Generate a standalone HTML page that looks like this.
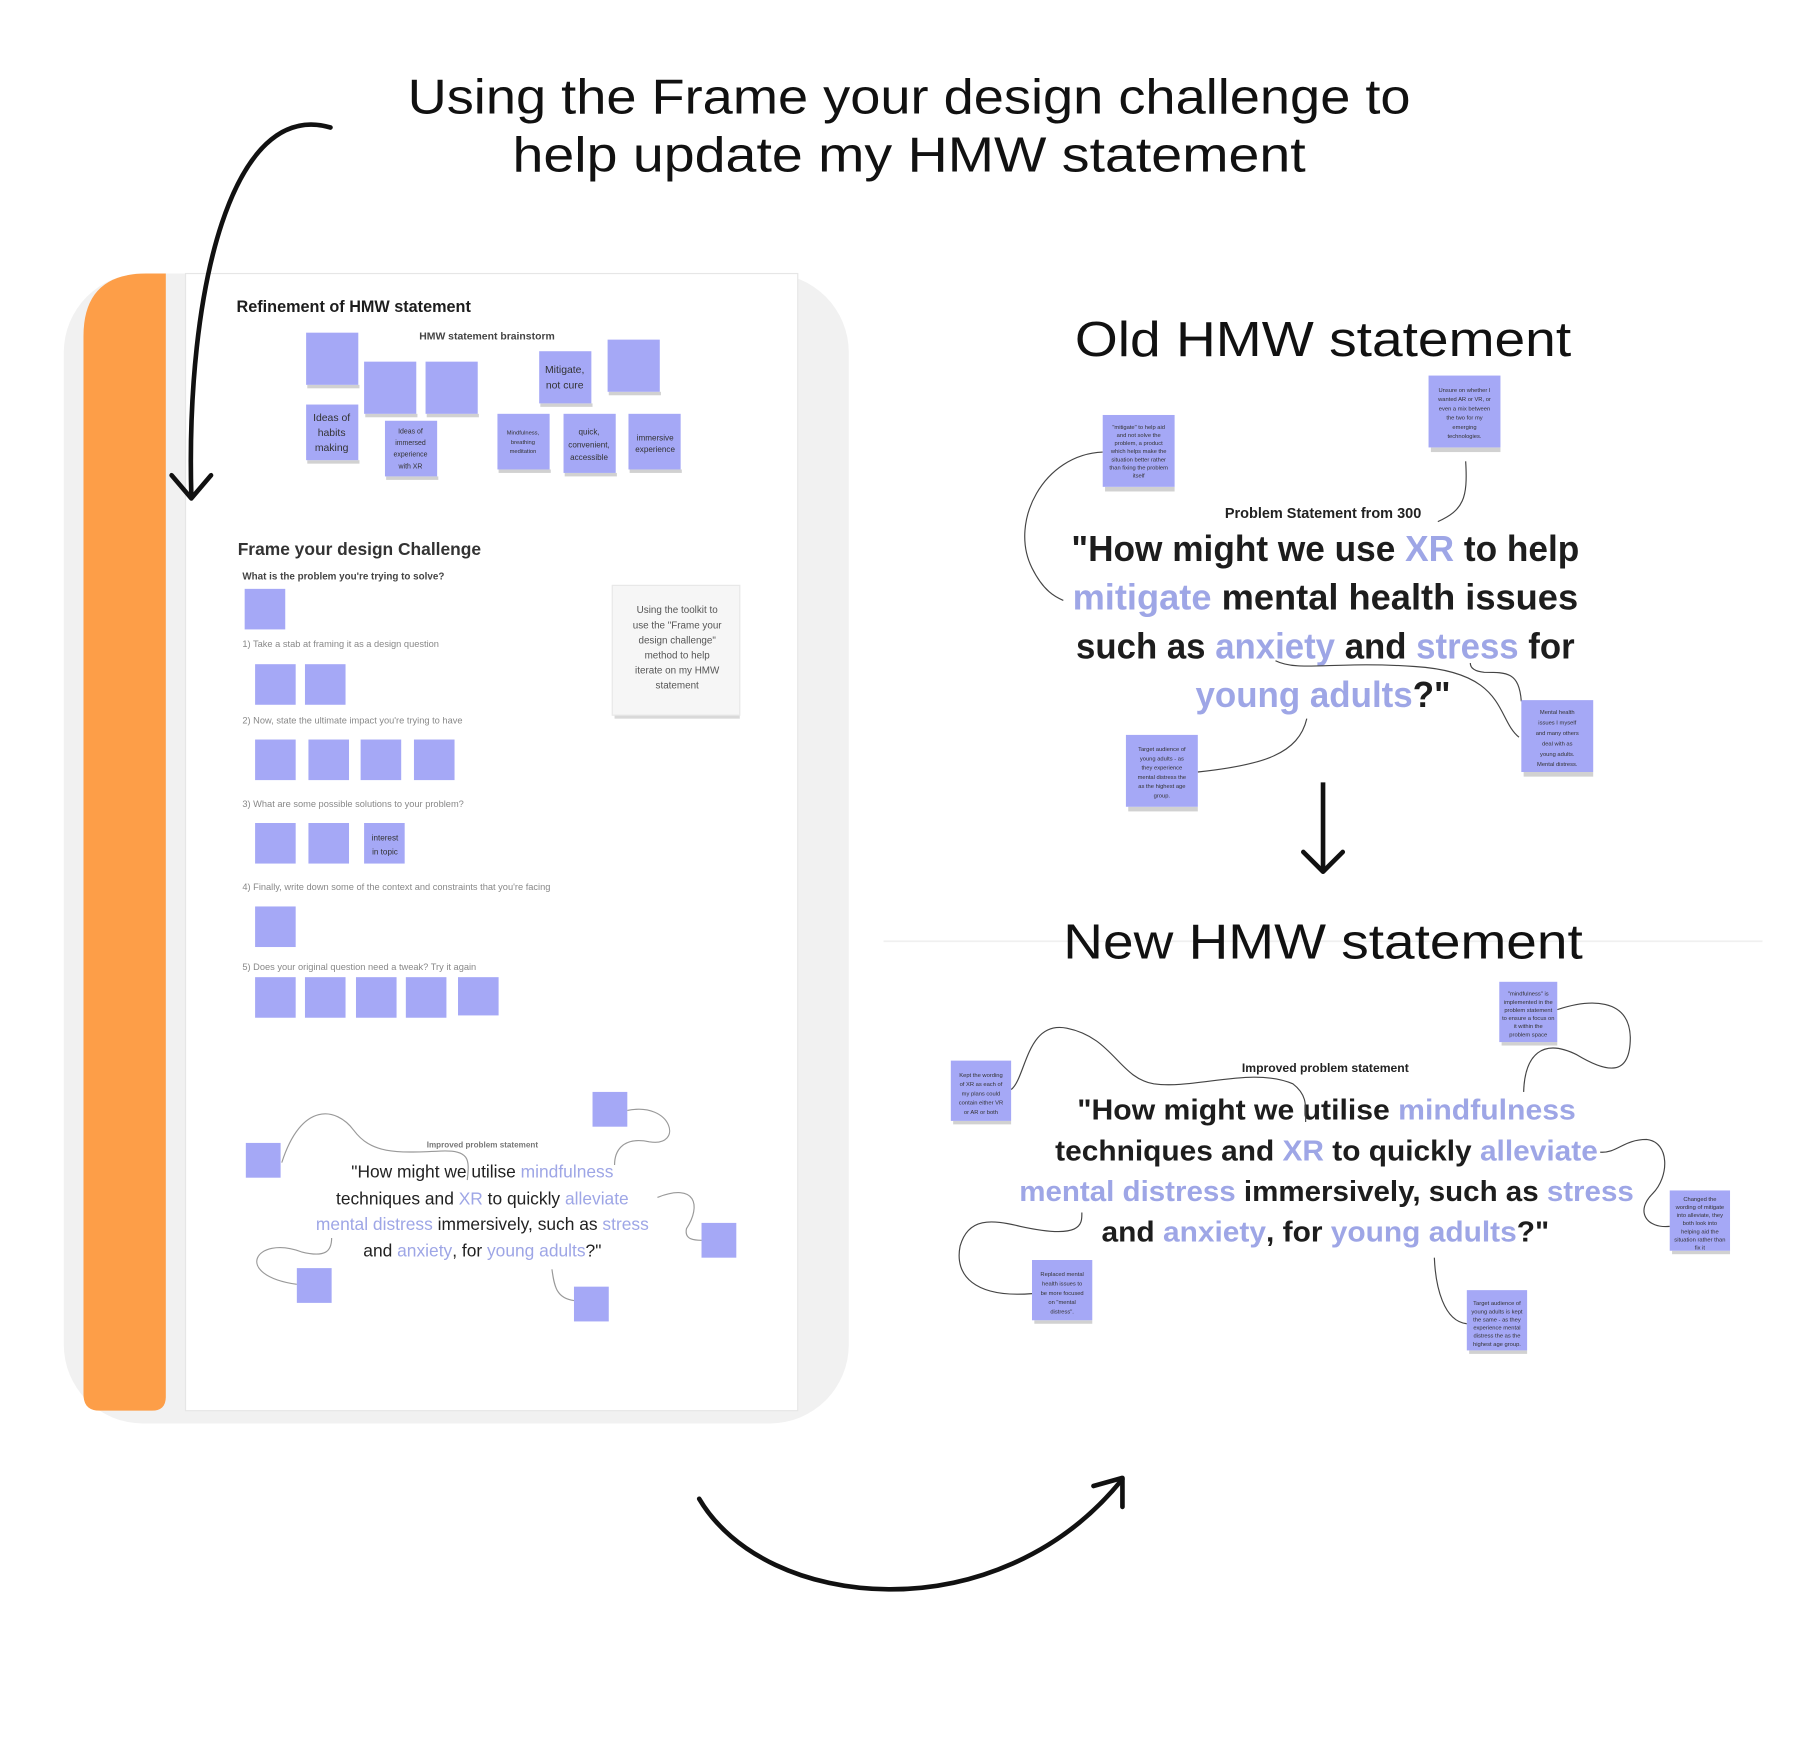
<!DOCTYPE html>
<html><head><meta charset="utf-8"><style>
html,body{margin:0;padding:0;background:#fff;}
svg{display:block;}
text{font-family:"Liberation Sans",sans-serif;}
.n{fill:#a5a8f6;}
.sh{fill:#000;opacity:.18;}
.b{font-weight:bold;fill:#1d1d1d;}
.p{fill:#9ea6e6;}
.t{font-size:5px;fill:#333;text-anchor:middle;}
.c{fill:none;stroke:#444;stroke-width:1;}
.cl{fill:none;stroke:#999;stroke-width:1;}
</style></head><body>
<svg width="1817" height="1748" viewBox="0 0 1567 1508" preserveAspectRatio="none" xmlns="http://www.w3.org/2000/svg">
<rect width="1567" height="1508" fill="#fff"/>
<!-- Title -->
<text x="784" y="98" font-size="42" text-anchor="middle" fill="#111" textLength="865" lengthAdjust="spacingAndGlyphs">Using the Frame your design challenge to</text>
<text x="784" y="148" font-size="42" text-anchor="middle" fill="#111" textLength="684" lengthAdjust="spacingAndGlyphs">help update my HMW statement</text>

<!-- Left panel -->
<rect x="55" y="236" width="677" height="992" rx="68" fill="#f1f1f1"/>
<path d="M143,236 L143,1205 Q143,1217 131,1217 L86,1217 Q72,1217 72,1203 L72,290 Q72,236 126,236 Z" fill="#fd9e48"/>
<rect x="160" y="236" width="528" height="981" fill="#fff"/>
<rect x="160" y="236" width="528" height="981" fill="none" stroke="#e6e6e6"/>

<text x="204" y="269" font-size="14" class="b" fill="#333">Refinement of HMW statement</text>
<text x="420" y="293" font-size="9" text-anchor="middle" font-weight="bold" fill="#444">HMW statement brainstorm</text>
<g>
<rect class="sh" x="265" y="332" width="45" height="3"/><rect class="n" x="264" y="287" width="45" height="45"/>
<rect class="sh" x="315" y="357" width="45" height="3"/><rect class="n" x="314" y="312" width="45" height="45"/>
<rect class="sh" x="368" y="357" width="45" height="3"/><rect class="n" x="367" y="312" width="45" height="45"/>
<rect class="sh" x="265" y="397" width="45" height="3"/><rect class="n" x="264" y="349" width="45" height="48"/>
<text x="286" y="363" font-size="9" text-anchor="middle" fill="#333">Ideas of</text><text x="286" y="376" font-size="9" text-anchor="middle" fill="#333">habits</text><text x="286" y="389" font-size="9" text-anchor="middle" fill="#333">making</text>
<rect class="sh" x="333" y="411" width="45" height="3"/><rect class="n" x="332" y="363" width="45" height="48"/>
<text x="354" y="374" font-size="6" text-anchor="middle" fill="#333">Ideas of</text><text x="354" y="384" font-size="6" text-anchor="middle" fill="#333">immersed</text><text x="354" y="394" font-size="6" text-anchor="middle" fill="#333">experience</text><text x="354" y="404" font-size="6" text-anchor="middle" fill="#333">with XR</text>
<rect class="sh" x="466" y="348" width="45" height="3"/><rect class="n" x="465" y="303" width="45" height="45"/>
<text x="487" y="322" font-size="9" text-anchor="middle" fill="#333">Mitigate,</text><text x="487" y="335" font-size="9" text-anchor="middle" fill="#333">not cure</text>
<rect class="sh" x="525" y="338" width="45" height="3"/><rect class="n" x="524" y="293" width="45" height="45"/>
<rect class="sh" x="430" y="405" width="45" height="3"/><rect class="n" x="429" y="357" width="45" height="48"/>
<text x="451" y="375" font-size="5" text-anchor="middle" fill="#333">Mindfulness,</text><text x="451" y="383" font-size="5" text-anchor="middle" fill="#333">breathing</text><text x="451" y="391" font-size="5" text-anchor="middle" fill="#333">meditation</text>
<rect class="sh" x="487" y="408" width="45" height="3"/><rect class="n" x="486" y="357" width="45" height="51"/>
<text x="508" y="375" font-size="7" text-anchor="middle" fill="#333">quick,</text><text x="508" y="386" font-size="7" text-anchor="middle" fill="#333">convenient,</text><text x="508" y="397" font-size="7" text-anchor="middle" fill="#333">accessible</text>
<rect class="sh" x="543" y="405" width="45" height="3"/><rect class="n" x="542" y="357" width="45" height="48"/>
<text x="565" y="380" font-size="7" text-anchor="middle" fill="#333">immersive</text><text x="565" y="390" font-size="7" text-anchor="middle" fill="#333">experience</text>
</g>

<text x="205" y="479" font-size="15" font-weight="bold" fill="#333">Frame your design Challenge</text>
<text x="209" y="500" font-size="8.5" font-weight="bold" fill="#444">What is the problem you're trying to solve?</text>
<text x="209" y="558" font-size="8" fill="#888">1) Take a stab at framing it as a design question</text>
<text x="209" y="624" font-size="8" fill="#888">2) Now, state the ultimate impact you're trying to have</text>
<text x="209" y="696" font-size="8" fill="#888">3) What are some possible solutions to your problem?</text>
<text x="209" y="768" font-size="8" fill="#888">4) Finally, write down some of the context and constraints that you're facing</text>
<text x="209" y="837" font-size="8" fill="#888">5) Does your original question need a tweak? Try it again</text>
<g>
<rect class="n" x="211" y="508" width="35" height="35"/>
<rect class="n" x="220" y="573" width="35" height="35"/><rect class="n" x="263" y="573" width="35" height="35"/>
<rect class="n" x="220" y="638" width="35" height="35"/><rect class="n" x="266" y="638" width="35" height="35"/><rect class="n" x="311" y="638" width="35" height="35"/><rect class="n" x="357" y="638" width="35" height="35"/>
<rect class="n" x="220" y="710" width="35" height="35"/><rect class="n" x="266" y="710" width="35" height="35"/><rect class="n" x="314" y="710" width="35" height="35"/>
<text x="332" y="725" font-size="7" text-anchor="middle" fill="#333">interest</text><text x="332" y="737" font-size="7" text-anchor="middle" fill="#333">in topic</text>
<rect class="n" x="220" y="782" width="35" height="35"/>
<rect class="n" x="220" y="843" width="35" height="35"/><rect class="n" x="263" y="843" width="35" height="35"/><rect class="n" x="307" y="843" width="35" height="35"/><rect class="n" x="350" y="843" width="35" height="35"/><rect class="n" x="395" y="843" width="35" height="33"/>
</g>
<rect x="530" y="614" width="108" height="6" fill="#000" opacity=".15"/>
<rect x="528" y="505" width="110" height="112" fill="#f6f6f6" stroke="#e8e8e8"/>
<g font-size="8.5" text-anchor="middle" fill="#555">
<text x="584" y="529">Using the toolkit to</text><text x="584" y="542">use the "Frame your</text><text x="584" y="555">design challenge"</text><text x="584" y="568">method to help</text><text x="584" y="581">iterate on my HMW</text><text x="584" y="594">statement</text>
</g>

<!-- mini improved -->
<text x="416" y="990" font-size="7" text-anchor="middle" font-weight="bold" fill="#777">Improved problem statement</text>
<g font-size="15" text-anchor="middle" fill="#222">
<text x="416" y="1016">"How might we utilise <tspan class="p">mindfulness</tspan></text>
<text x="416" y="1039">techniques and <tspan class="p">XR</tspan> to quickly <tspan class="p">alleviate</tspan></text>
<text x="416" y="1061"><tspan class="p">mental distress</tspan> immersively, such as <tspan class="p">stress</tspan></text>
<text x="416" y="1084">and <tspan class="p">anxiety</tspan>, for <tspan class="p">young adults</tspan>?"</text>
</g>
<path class="cl" d="M243,1003 C260,950 290,955 305,975 C320,995 340,995 380,993 C405,992 405,1000 403,1018"/>
<path class="cl" d="M541,958 C580,950 590,990 560,985 C535,980 530,995 530,1005"/>
<path class="cl" d="M567,1033 C600,1020 605,1040 592,1060 C590,1070 600,1070 605,1070"/>
<path class="cl" d="M256,1108 C200,1100 220,1065 260,1080 C280,1085 286,1080 286,1068"/>
<path class="cl" d="M495,1122 C480,1120 478,1110 476,1095"/>
<rect class="n" x="212" y="986" width="30" height="30"/><rect class="n" x="511" y="942" width="30" height="30"/><rect class="n" x="605" y="1055" width="30" height="30"/><rect class="n" x="256" y="1094" width="30" height="30"/><rect class="n" x="495" y="1110" width="30" height="30"/>

<!-- big arrows -->
<path d="M285,110 C200,85 160,250 165,428" fill="none" stroke="#111" stroke-width="4" stroke-linecap="round"/>
<path d="M148,410 L165,430 L182,410" fill="none" stroke="#111" stroke-width="4" stroke-linecap="round" stroke-linejoin="round"/>
<path d="M603,1293 C660,1390 860,1410 968,1276" fill="none" stroke="#111" stroke-width="4" stroke-linecap="round"/>
<path d="M943,1282 L968,1275 L968,1300" fill="none" stroke="#111" stroke-width="4" stroke-linecap="round" stroke-linejoin="round"/>

<!-- Old HMW -->
<text x="1141" y="307" font-size="42" text-anchor="middle" fill="#111" textLength="428" lengthAdjust="spacingAndGlyphs">Old HMW statement</text>
<text x="1141" y="447" font-size="12.5" text-anchor="middle" font-weight="bold" fill="#222">Problem Statement from 300</text>
<g font-size="31" text-anchor="middle" font-weight="bold" fill="#1d1d1d">
<text x="1143" y="484" textLength="438" lengthAdjust="spacingAndGlyphs">"How might we use <tspan class="p">XR</tspan> to help</text>
<text x="1143" y="526" textLength="436" lengthAdjust="spacingAndGlyphs"><tspan class="p">mitigate</tspan> mental health issues</text>
<text x="1143" y="568" textLength="430" lengthAdjust="spacingAndGlyphs">such as <tspan class="p">anxiety</tspan> and <tspan class="p">stress</tspan> for</text>
<text x="1141" y="610" textLength="220" lengthAdjust="spacingAndGlyphs"><tspan class="p">young adults</tspan>?"</text>
</g>
<path class="c" d="M951,390 C900,392 870,450 890,490 C900,510 910,515 917,518"/>
<path class="c" d="M1264,398 C1266,430 1262,440 1240,450"/>
<path class="c" d="M1033,666 C1090,660 1120,650 1127,620"/>
<path class="c" d="M1310,636 C1290,620 1300,580 1220,575 C1150,570 1120,580 1100,570"/>
<path class="c" d="M1312,605 C1310,580 1300,580 1280,580 C1270,579 1268,575 1268,572"/>
<rect class="sh" x="953" y="420" width="60" height="4"/><rect class="n" x="951" y="358" width="62" height="62"/>
<rect class="sh" x="1234" y="386" width="60" height="4"/><rect class="n" x="1232" y="324" width="62" height="62"/>
<rect class="sh" x="973" y="696" width="60" height="4"/><rect class="n" x="971" y="634" width="62" height="62"/>
<rect class="sh" x="1314" y="666" width="60" height="4"/><rect class="n" x="1312" y="604" width="62" height="62"/>
<g class="t"><text x="982" y="370">"mitigate" to help aid</text><text x="982" y="377">and not solve the</text><text x="982" y="384">problem, a product</text><text x="982" y="391">which helps make the</text><text x="982" y="398">situation better rather</text><text x="982" y="405">than fixing the problem</text><text x="982" y="412">itself</text></g>
<g class="t"><text x="1263" y="338">Unsure on whether I</text><text x="1263" y="346">wanted AR or VR, or</text><text x="1263" y="354">even a mix between</text><text x="1263" y="362">the two for my</text><text x="1263" y="370">emerging</text><text x="1263" y="378">technologies.</text></g>
<g class="t"><text x="1002" y="648">Target audience of</text><text x="1002" y="656">young adults - as</text><text x="1002" y="664">they experience</text><text x="1002" y="672">mental distress the</text><text x="1002" y="680">as the highest age</text><text x="1002" y="688">group.</text></g>
<g class="t"><text x="1343" y="616">Mental health</text><text x="1343" y="625">issues I myself</text><text x="1343" y="634">and many others</text><text x="1343" y="643">deal with as</text><text x="1343" y="652">young adults.</text><text x="1343" y="661">Mental distress.</text></g>

<path d="M1141,675 L1141,750" stroke="#111" stroke-width="4"/>
<path d="M1124,735 L1141,752 L1158,735" fill="none" stroke="#111" stroke-width="4" stroke-linecap="round" stroke-linejoin="round"/>
<line x1="762" y1="812" x2="1520" y2="812" stroke="#f0f0f0" stroke-width="1.5"/>

<!-- New HMW -->
<text x="1141" y="827" font-size="42" text-anchor="middle" fill="#111" textLength="448" lengthAdjust="spacingAndGlyphs">New HMW statement</text>
<text x="1143" y="925" font-size="10.5" text-anchor="middle" font-weight="bold" fill="#222">Improved problem statement</text>
<g font-size="25" text-anchor="middle" font-weight="bold" fill="#1d1d1d">
<text x="1144" y="966" textLength="430" lengthAdjust="spacingAndGlyphs">"How might we utilise <tspan class="p">mindfulness</tspan></text>
<text x="1144" y="1001" textLength="468" lengthAdjust="spacingAndGlyphs">techniques and <tspan class="p">XR</tspan> to quickly <tspan class="p">alleviate</tspan></text>
<text x="1144" y="1036" textLength="530" lengthAdjust="spacingAndGlyphs"><tspan class="p">mental distress</tspan> immersively, such as <tspan class="p">stress</tspan></text>
<text x="1143" y="1071" textLength="386" lengthAdjust="spacingAndGlyphs">and <tspan class="p">anxiety</tspan>, for <tspan class="p">young adults</tspan>?"</text>
</g>
<path class="c" d="M872,940 C885,930 885,880 920,887 C960,895 965,930 995,935 C1030,940 1080,920 1115,935 C1128,945 1126,955 1126,968"/>
<path class="c" d="M1343,871 C1370,862 1405,860 1406,895 C1406,930 1385,925 1360,910 C1330,895 1315,910 1314,942"/>
<path class="c" d="M1440,1058 C1420,1060 1410,1045 1425,1030 C1440,1015 1440,985 1420,983 C1400,983 1395,995 1380,994"/>
<path class="c" d="M890,1116 C840,1120 823,1100 828,1075 C835,1050 855,1052 880,1058 C935,1070 933,1055 933,1046"/>
<path class="c" d="M1265,1142 C1245,1140 1238,1110 1237,1085"/>
<rect class="sh" x="1295" y="899" width="48" height="3"/><rect class="n" x="1293" y="847" width="50" height="52"/>
<rect class="sh" x="822" y="967" width="50" height="3"/><rect class="n" x="820" y="915" width="52" height="52"/>
<rect class="sh" x="1442" y="1079" width="50" height="3"/><rect class="n" x="1440" y="1027" width="52" height="52"/>
<rect class="sh" x="892" y="1139" width="50" height="3"/><rect class="n" x="890" y="1087" width="52" height="52"/>
<rect class="sh" x="1267" y="1165" width="50" height="3"/><rect class="n" x="1265" y="1113" width="52" height="52"/>
<g class="t" font-size="4.5"><text x="1318" y="859">"mindfulness" is</text><text x="1318" y="866">implemented in the</text><text x="1318" y="873">problem statement</text><text x="1318" y="880">to ensure a focus on</text><text x="1318" y="887">it within the</text><text x="1318" y="894">problem space</text></g>
<g class="t" font-size="4.5"><text x="846" y="929">Kept the wording</text><text x="846" y="937">of XR as each of</text><text x="846" y="945">my plans could</text><text x="846" y="953">contain either VR</text><text x="846" y="961">or AR or both</text></g>
<g class="t" font-size="4.5"><text x="1466" y="1036">Changed the</text><text x="1466" y="1043">wording of mitigate</text><text x="1466" y="1050">into alleviate, they</text><text x="1466" y="1057">both look into</text><text x="1466" y="1064">helping aid the</text><text x="1466" y="1071">situation rather than</text><text x="1466" y="1078">fix it</text></g>
<g class="t" font-size="4.5"><text x="916" y="1101">Replaced mental</text><text x="916" y="1109">health issues to</text><text x="916" y="1117">be more focused</text><text x="916" y="1125">on "mental</text><text x="916" y="1133">distress".</text></g>
<g class="t" font-size="4.5"><text x="1291" y="1126">Target audience of</text><text x="1291" y="1133">young adults is kept</text><text x="1291" y="1140">the same - as they</text><text x="1291" y="1147">experience mental</text><text x="1291" y="1154">distress the as the</text><text x="1291" y="1161">highest age group.</text></g>
</svg>
</body></html>
